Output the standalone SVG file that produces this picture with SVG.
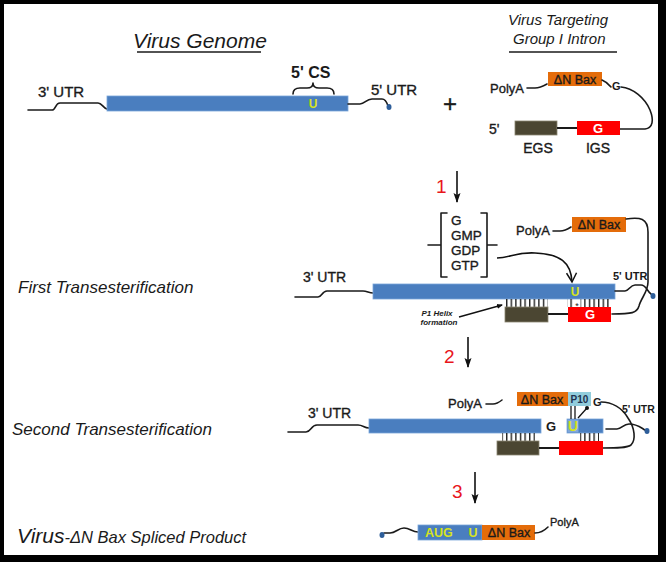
<svg xmlns="http://www.w3.org/2000/svg" width="666" height="562" viewBox="0 0 666 562">
<defs>
<style>
.t{font-family:"Liberation Sans",Arial,sans-serif;fill:#1a1a1a}
.m{stroke:#1a1a1a;stroke-width:0.35}
.i{font-style:italic}
.b{font-weight:bold}
.bar{fill:#4a7ebf;stroke:#79a5da;stroke-width:0.8}
.ln{fill:none;stroke:#1a1a1a;stroke-width:1.6;stroke-linecap:round;stroke-linejoin:round}
.or{fill:#e46c0a}
.red{fill:#ff0000}
.egs{fill:#4b4632;stroke:#8a8570;stroke-width:0.8}
.u{fill:#d7e31d;font-weight:bold}
.num{fill:#e8151b;font-size:19px}
.dot{fill:#2e5e9a}
.hat{fill:url(#hp)}
</style>
<pattern id="hp" width="4.6" height="10" patternUnits="userSpaceOnUse"><rect x="0" y="0" width="1.4" height="10" fill="#222"/></pattern>
<marker id="ah" markerWidth="10" markerHeight="10" refX="9" refY="5" orient="auto" markerUnits="userSpaceOnUse"><path d="M0,1.5 L10,5 L0,8.5 L2,5 z" fill="#111"/></marker>
<marker id="av" markerWidth="12" markerHeight="12" refX="10" refY="6" orient="auto" markerUnits="userSpaceOnUse"><path d="M1,1 L10,6 L1,11" fill="none" stroke="#111" stroke-width="1.5"/></marker>
<marker id="sm" markerWidth="6" markerHeight="6" refX="5" refY="3" orient="auto" markerUnits="userSpaceOnUse"><path d="M0,0.5 L6,3 L0,5.5 z" fill="#111"/></marker>
</defs>

<rect x="0" y="0" width="666" height="562" fill="#000"/>
<rect x="4" y="4" width="654" height="551" fill="#fff"/>

<!-- titles -->
<g id="title-genome">
<text class="t i" x="133" y="48" font-size="21">Virus Genome</text>
<line x1="137" y1="52" x2="261" y2="52" stroke="#1a1a1a" stroke-width="1.4"/>
</g>
<g id="title-intron">
<text class="t i" x="508" y="25" font-size="15">Virus Targeting</text>
<text class="t i" x="513" y="44" font-size="15">Group I Intron</text>
<line x1="509" y1="52" x2="617" y2="52" stroke="#1a1a1a" stroke-width="1.4"/>
</g>

<!-- row 1: genome -->
<g id="genome">
<text class="t m" x="38" y="97" font-size="15">3' UTR</text>
<path class="ln" d="M28,110 L52,110 C56,110 55,103 60,103 L98,103 C102,103 103,108 107,109"/>
<rect class="bar" x="107" y="96" width="241" height="15"/>
<text class="t u" x="313" y="108" font-size="12" text-anchor="middle">U</text>
<text class="t b" x="291" y="78" font-size="16">5' CS</text>
<path class="ln" stroke-width="2.4" d="M293,94 Q293,88 300,88 L307,88 Q313,88 313,83 Q313,88 319,88 L327,88 Q334,88 334,94"/>
<text class="t m" x="371" y="95" font-size="15">5' UTR</text>
<path class="ln" d="M348,104 L360,104 C365,104 366,99 372,99 L382,99 C386,99 387,103 388,106"/>
<ellipse class="dot" cx="389" cy="107" rx="2.5" ry="3"/>
</g>

<g id="plus"><text class="t m" x="450" y="112" font-size="24" text-anchor="middle">+</text></g>

<!-- intron -->
<g id="intron">
<text class="t m" x="490" y="93" font-size="13">PolyA</text>
<path class="ln" stroke-width="1.3" d="M527,88 L535,88 Q540,88 547,84"/>
<rect class="or" x="548" y="72" width="54" height="14"/>
<text class="t m" x="575" y="84" font-size="12.5" text-anchor="middle">ΔN Bax</text>
<path class="ln" stroke-width="1.3" d="M602,80 Q607,82 611,87"/>
<text class="t b" x="612" y="90" font-size="11">G</text>
<path class="ln" stroke-width="2" d="M621,87 C633,88 645,98 650,110 C654,120 653,128 645,129 L620,129"/>
<rect class="egs" x="515" y="121" width="42" height="14"/>
<line x1="557" y1="128" x2="577" y2="128" stroke="#1a1a1a" stroke-width="2"/>
<rect class="red" x="577" y="121" width="43" height="14"/>
<text class="t b" x="598" y="133" font-size="13" text-anchor="middle" style="fill:#fff">G</text>
<text class="t m" x="489" y="134" font-size="14">5'</text>
<text class="t m" x="538" y="153" font-size="14" text-anchor="middle">EGS</text>
<text class="t m" x="598" y="153" font-size="14" text-anchor="middle">IGS</text>
</g>

<!-- step labels -->
<g id="step1"><text class="t num" x="436" y="193">1</text></g>
<g id="step2"><text class="t num" x="444" y="363">2</text></g>
<g id="step3"><text class="t num" x="452" y="498">3</text></g>

<!-- guanosine bracket -->
<g id="guanosine">
<path class="ln" stroke-width="1.5" d="M447,213 L441,213 L441,277 L447,277 M428,245 L441,245"/>
<path class="ln" stroke-width="1.5" d="M481,213 L487,213 L487,277 L481,277 M487,245 L497,245"/>
<text class="t m" x="451" y="225" font-size="13.5">G</text>
<text class="t m" x="451" y="240" font-size="13.5">GMP</text>
<text class="t m" x="451" y="255" font-size="13.5">GDP</text>
<text class="t m" x="451" y="270" font-size="13.5">GTP</text>
</g>

<!-- row 2 -->
<g id="first-label"><text class="t i" x="18" y="293" font-size="17">First Transesterification</text></g>
<g id="first-complex">
<text class="t m" x="303" y="282" font-size="14">3' UTR</text>
<path class="ln" d="M295,297 L318,297 C322,297 322,291 327,291 L363,291 C367,291 369,293 373,293"/>
<rect class="bar" x="373" y="284" width="242" height="15"/>
<text class="t u" x="575" y="296" font-size="12" text-anchor="middle">U</text>
<text class="t b" x="613" y="280" font-size="11">5' UTR</text>
<path class="ln" d="M615,291 L625,291 C629,291 630,285 635,285 L641,285 C646,285 647,291 651,294"/>
<ellipse class="dot" cx="653" cy="296" rx="2.5" ry="3"/>
<text class="t m" x="516" y="235" font-size="13">PolyA</text>
<path class="ln" stroke-width="1.3" d="M553,231 L560,231 Q565,231 571,227"/>
<rect class="or" x="572" y="217" width="54" height="15"/>
<text class="t m" x="599" y="229" font-size="12.5" text-anchor="middle">ΔN Bax</text>
<path class="ln" stroke-width="2" d="M626,219 C640,217 648,218 648,232 L648,282 C648,292 641,298 639,306 C637,313 632,314 612,314"/>
<rect class="hat" x="505.5" y="299" width="42" height="8"/>
<rect class="hat" x="567.5" y="299" width="6" height="8"/>
<rect class="hat" x="580.5" y="299" width="29" height="8"/>
<text class="t" x="577" y="309" font-size="9" text-anchor="middle">*</text>
<rect class="egs" x="505" y="307" width="43" height="15"/>
<line x1="548" y1="314" x2="568" y2="314" stroke="#1a1a1a" stroke-width="2"/>
<rect class="red" x="568" y="307" width="43" height="15"/>
<text class="t b" x="590" y="319" font-size="13" text-anchor="middle" style="fill:#fff">G</text>
<text class="t i b" x="437" y="316" font-size="8" text-anchor="middle">P1 Helix</text>
<text class="t i b" x="439" y="325" font-size="8" text-anchor="middle">formation</text>
</g>

<!-- row 3 -->
<g id="second-label"><text class="t i" x="12" y="435" font-size="17">Second Transesterification</text></g>
<g id="second-complex">
<text class="t m" x="308" y="418" font-size="14">3' UTR</text>
<path class="ln" d="M288,432 L306,432 C311,432 311,425 317,425 L358,425 C363,425 364,428 369,428"/>
<rect class="bar" x="369" y="419" width="172" height="14"/>
<text class="t b" x="546" y="431" font-size="13">G</text>
<rect class="bar" x="567" y="419" width="36" height="14"/>
<rect x="567.5" y="419.5" width="11" height="13" fill="#7fa7db"/>
<text class="t u" x="573" y="431" font-size="14" text-anchor="middle">U</text>
<text class="t m" x="448" y="408" font-size="13">PolyA</text>
<path class="ln" stroke-width="1.3" d="M486,404 L493,404 Q497,404 502,400"/>
<rect class="or" x="517" y="392" width="51" height="14"/>
<text class="t m" x="542" y="404" font-size="12.5" text-anchor="middle">ΔN Bax</text>
<rect x="568" y="392" width="23" height="14" fill="#92cddc"/>
<text class="t b" x="579.5" y="403" font-size="10" text-anchor="middle" style="fill:#1f3350">P10</text>
<line x1="571" y1="406" x2="571" y2="419" stroke="#1a1a1a" stroke-width="1.3"/>
<line x1="575" y1="406" x2="575" y2="419" stroke="#1a1a1a" stroke-width="1.3"/>
<text class="t b" x="593" y="406" font-size="11">G</text>
<path class="ln" stroke-width="2" d="M601,402 C612,402 622,408 628,418 C635,428 636,440 631,445 C627,448 616,448 603,448"/>
<text class="t b" x="622" y="413" font-size="10.5">5' UTR</text>
<path class="ln" d="M606,429 L617,429 C622,429 623,424 629,424 C637,424 640,427 645,430"/>
<ellipse class="dot" cx="647" cy="431" rx="2.5" ry="3"/>
<rect class="hat" x="502" y="433" width="33" height="8"/>
<rect class="hat" x="580" y="433" width="19" height="8"/>
<rect class="egs" x="497" y="441" width="42" height="14"/>
<line x1="539" y1="448" x2="559" y2="448" stroke="#1a1a1a" stroke-width="2"/>
<rect class="red" x="559" y="441" width="44" height="14"/>
</g>

<!-- row 4 -->
<g id="product-label"><text class="t i" x="17" y="543" font-size="21">Virus<tspan font-size="16.5">-ΔN Bax Spliced Product</tspan></text></g>
<g id="product">
<path class="ln" stroke-width="1.4" d="M418,532 C412,532 410,528 404,528 C398,528 396,533 390,533 L384,533"/>
<ellipse class="dot" cx="382" cy="535" rx="2.5" ry="3"/>
<rect class="bar" x="418" y="525" width="64" height="15"/>
<rect x="482" y="525" width="53" height="15" class="or"/>
<text class="t u" x="425" y="537" font-size="12.5">AUG</text>
<text class="t u" x="473" y="537" font-size="12.5" text-anchor="middle">U</text>
<text class="t m" x="509" y="537" font-size="12.5" text-anchor="middle">ΔN Bax</text>
<path class="ln" stroke-width="1.3" d="M535,533 Q542,533 548,527"/>
<text class="t m" x="550" y="526" font-size="11">PolyA</text>
</g>

<!-- connectors -->
<g id="connectors">
<line x1="457" y1="171" x2="457" y2="202" stroke="#111" stroke-width="1.6" marker-end="url(#ah)"/>
<line x1="468" y1="337" x2="468" y2="367" stroke="#111" stroke-width="1.6" marker-end="url(#ah)"/>
<line x1="475" y1="472" x2="475" y2="503" stroke="#111" stroke-width="1.6" marker-end="url(#ah)"/>
<path d="M497,258 C510,258 515,252 535,253 C560,254 571,262 572,282" fill="none" stroke="#111" stroke-width="1.6" marker-end="url(#av)"/>
<path d="M459,317 L502,305" fill="none" stroke="#111" stroke-width="1.3" marker-end="url(#sm)"/>
<path d="M578,418 L587,408" fill="none" stroke="#111" stroke-width="1.3"/>
<circle cx="587" cy="408" r="2" fill="#111"/>
</g>
</svg>
